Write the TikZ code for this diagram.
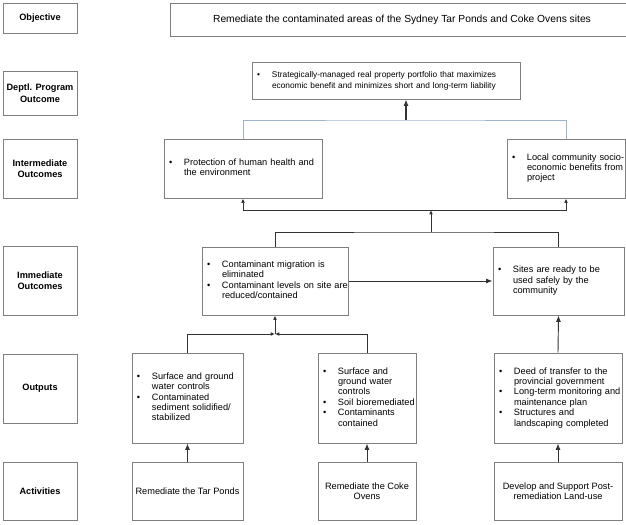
\documentclass[tikz,border=0pt]{standalone}
\usepackage{fontspec}
\setmainfont{Liberation Sans}
\usetikzlibrary{arrows.meta}
\definecolor{boxgray}{HTML}{7F7F7F}
\definecolor{linegray}{HTML}{333333}
\definecolor{lineblue}{HTML}{9FB3CC}
\newcommand{\bodyfont}{\fontsize{6.9pt}{7.8pt}\selectfont}
\newcommand{\deptfont}{\fontsize{6.25pt}{8.4pt}\selectfont}
\newcommand{\labfont}{\fontsize{6.9pt}{8.6pt}\selectfont\bfseries}
\newcommand{\objfont}{\fontsize{7.7pt}{9pt}\selectfont}
\newcommand{\bu}{\makebox[11.25pt][l]{\textbullet}}
\begin{document}
\begin{tikzpicture}[x=0.75pt, y=-0.75pt,
  lab/.style={draw=boxgray, line width=0.75pt, minimum width=55.5pt, align=center, font=\labfont, inner sep=0pt},
  box/.style={draw=boxgray, line width=0.75pt, inner xsep=3.75pt, inner ysep=0pt, font=\bodyfont, align=left},
  cbox/.style={draw=boxgray, line width=0.75pt, inner xsep=2pt, inner ysep=0pt, font=\bodyfont, align=center},
  conn/.style={draw=linegray, line width=0.7pt},
  bconn/.style={draw=lineblue, line width=0.75pt},
  arr/.style={-{Latex[length=4.8pt,width=3.8pt]}},
  sarr/.style={-{Latex[length=3.2pt,width=2.8pt]}}]
\useasboundingbox (0,0) rectangle (626,525);

% left labels
\node[lab, minimum height=22.5pt] (labObj) at (40,18) {Objective};
\node[lab, minimum height=33pt] (labDept) at (40,93) {Deptl. Program\\Outcome};
\node[lab, minimum height=44.25pt] (labInt) at (40,168.5) {Intermediate\\Outcomes};
\node[lab, minimum height=51.75pt] (labImm) at (40,280.5) {Immediate\\Outcomes};
\node[lab, minimum height=51.75pt] (labOut) at (40,388.5) {Outputs};
\node[lab, minimum height=43.5pt] (labAct) at (40,491) {Activities};

% objective
\node[cbox, minimum width=348pt, minimum height=24.75pt, font=\objfont] (obj) at (402,19.5)
  {Remediate the contaminated areas of the Sydney Tar Ponds and Coke Ovens sites};

% dept outcome
\node[box, text width=193.5pt, minimum height=27.75pt, font=\deptfont] (dept) at (386,80.5)
  {\begin{tabular}{@{}l@{}l@{}}\makebox[11.25pt][l]{\textbullet} & Strategically-managed real property portfolio that maximizes\\
   & economic benefit and minimizes short and long-term liability\end{tabular}};

% intermediate
\node[box, text width=111pt, minimum height=44.25pt] (intL) at (243,168.5)
  {\begin{tabular}{@{}l@{}l@{}}\bu & Protection of human health and\\ & the environment\end{tabular}};
\node[box, text width=81pt, minimum height=44.25pt] (intR) at (566,168.5)
  {\begin{tabular}{@{}l@{}l@{}}\bu & Local community socio-\\ & economic benefits from\\ & project\end{tabular}};

% immediate
\node[box, text width=102pt, minimum height=51pt] (immL) at (275,281)
  {\begin{tabular}{@{}l@{}l@{}}\bu & Contaminant migration is\\ & eliminated\\
   \bu & Contaminant levels on site are\\ & reduced/contained\end{tabular}};
\node[box, text width=90.75pt, minimum height=51pt] (immR) at (558.5,281)
  {\begin{tabular}{@{}l@{}l@{}}\bu & Sites are ready to be\\ & used safely by the\\ & community\end{tabular}};

% outputs
\node[box, text width=75.75pt, minimum height=67.5pt] (outL) at (187.5,398)
  {\begin{tabular}{@{}l@{}l@{}}\bu & Surface and ground\\ & water controls\\
   \bu & Contaminated\\ & sediment solidified/\\ & stabilized\end{tabular}};
\node[box, text width=66pt, minimum height=67.5pt] (outM) at (367,398)
  {\begin{tabular}{@{}l@{}l@{}}\bu & Surface and\\ & ground water\\ & controls\\
   \bu & Soil bioremediated\\ \bu & Contaminants\\ & contained\end{tabular}};
\node[box, text width=88.5pt, minimum height=67.5pt] (outR) at (558,398)
  {\begin{tabular}{@{}l@{}l@{}}\bu & Deed of transfer to the\\ & provincial government\\
   \bu & Long-term monitoring and\\ & maintenance plan\\
   \bu & Structures and\\ & landscaping completed\end{tabular}};

% activities
\node[cbox, minimum width=83.25pt, minimum height=43.5pt] (actL) at (187.5,491) {Remediate the Tar Ponds};
\node[cbox, minimum width=73.5pt, minimum height=43.5pt] (actM) at (367,491) {Remediate the Coke\\Ovens};
\node[cbox, minimum width=96pt, minimum height=43.5pt] (actR) at (558,491) {Develop and Support Post-\\remediation Land-use};

% connectors
\coordinate (j1) at (406,120);
\draw[bconn] (intL.north) |- (j1) -| (intR.north);
\draw[conn, line width=0.9pt, arr] (j1) -- (j1 |- dept.south);

\coordinate (j2) at (431,210);
\draw[conn, sarr] (j2) -| (intL.south);
\draw[conn, sarr] (j2) -| (intR.south);
\coordinate (j3) at (431,232);
\draw[conn, sarr] (j3) -- (j2);
\draw[conn] (immL.north) |- (j3) -| (immR.north);

\draw[conn, arr] (immL.east) -- (immL.east -| immR.west);

\coordinate (y334) at (0,334);
\coordinate (j4) at (immL.south |- y334);
\draw[conn, sarr] (outL.north) |- (j4);
\draw[conn, sarr] (outM.north) |- (j4);
\draw[conn, sarr] (j4) -- (immL.south);

\draw[conn, arr] (outR.north) -- (immR.south);
\draw[conn, arr] (actL.north) -- (outL.south);
\draw[conn, arr] (actM.north) -- (outM.south);
\draw[conn, arr] (actR.north) -- (outR.south);
\end{tikzpicture}
\end{document}
